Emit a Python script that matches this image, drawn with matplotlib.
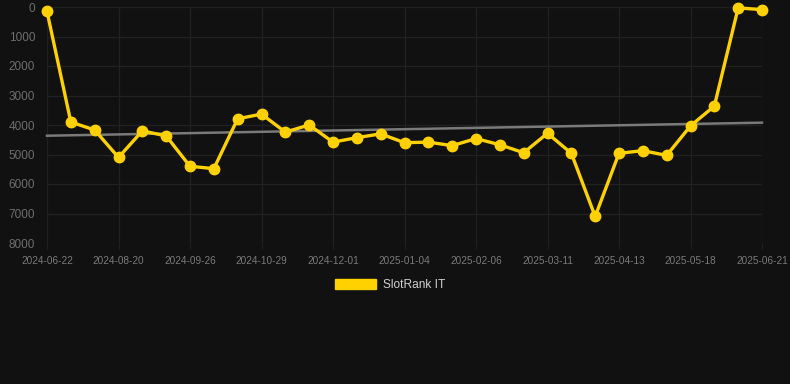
import numpy as np
import matplotlib
matplotlib.use("Agg")
import matplotlib.pyplot as plt
from matplotlib.patches import Patch

plt.rcParams['font.family'] = ['Liberation Sans', 'DejaVu Sans']

tick_labels = ["2024-06-22", "2024-08-20", "2024-09-26", "2024-10-29", "2024-12-01",
               "2025-01-04", "2025-02-06", "2025-03-11", "2025-04-13", "2025-05-18",
               "2025-06-21"]
ranks = [150, 3900, 4170, 5100, 4200, 4370, 5400, 5480, 3790, 3630,
         4240, 4000, 4580, 4430, 4300, 4600, 4580, 4700, 4460, 4670,
         4940, 4280, 4960, 7100, 4960, 4870, 5030, 4030, 3360, 30, 90]
series_name = "SlotRank IT"

bg = "#111111"
grid_c = "#212121"
gold = "#FFD100"

fig = plt.figure(figsize=(7.9, 3.84), dpi=100, facecolor=bg)
W, H = 790, 384
ax = fig.add_axes([47 / W, 1 - 243 / H, (762 - 47) / W, (243 - 7) / H], facecolor=bg)

x = np.arange(len(ranks))
coef = np.polyfit(x, ranks, 1)
ax.plot(x, np.polyval(coef, x), color="#7a7a7a", lw=1.8, zorder=2, clip_on=False)
ax.plot(x, ranks, color=gold, lw=2.4, marker="o", ms=7.5, mfc=gold, mec=gold,
        zorder=3, clip_on=False)

ax.set_ylim(8000, 0)
ax.set_yticks(np.arange(0, 8001, 1000))
ax.set_yticklabels([str(v) for v in range(0, 8001, 1000)])
step = 3
ax.set_xticks(x[::step])
ax.set_xticklabels(tick_labels)
ax.set_xlim(0, len(ranks) - 1)

for s in ax.spines.values():
    s.set_visible(False)
ax.grid(True, color=grid_c, lw=0.9)
ax.tick_params(axis="y", colors=grid_c, labelcolor="#6e6e6e", labelsize=8.5, length=0, pad=8.5)
ax.tick_params(axis="x", colors=grid_c, labelcolor="#7a7a7a", labelsize=7.2, length=4, pad=5)

leg = fig.legend(handles=[Patch(facecolor=gold, edgecolor=gold)], labels=[series_name],
                 loc="center", bbox_to_anchor=(390 / W, 1 - 285 / H), frameon=False,
                 fontsize=8.6, handlelength=3.4, handleheight=0.9, handletextpad=0.6,
                 labelcolor="#d0d0d0")

fig.savefig("out.png", dpi=100, facecolor=bg)
